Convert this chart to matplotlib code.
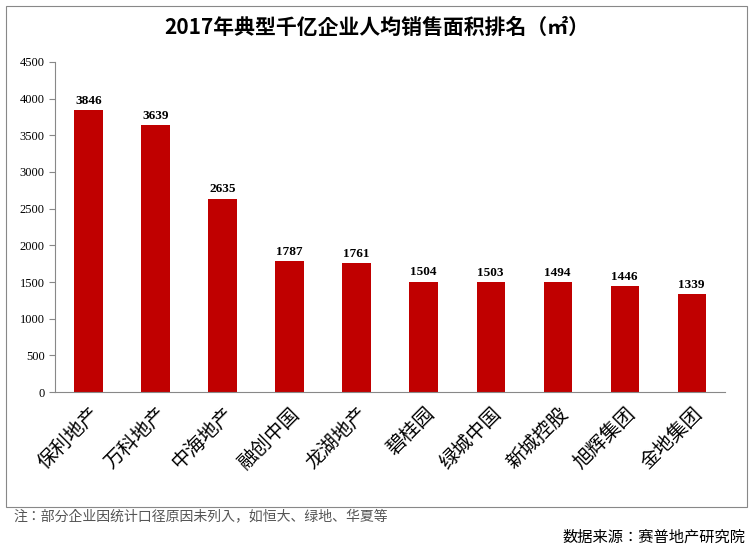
import matplotlib
matplotlib.use("Agg")
import matplotlib.pyplot as plt
from matplotlib.patches import Rectangle
from matplotlib import font_manager as fm

categories = ["保利地产", "万科地产", "中海地产", "融创中国", "龙湖地产", "碧桂园", "绿城中国", "新城控股", "旭辉集团", "金地集团"]
values = [3846, 3639, 2635, 1787, 1761, 1504, 1503, 1494, 1446, 1339]
yticks = [0, 500, 1000, 1500, 2000, 2500, 3000, 3500, 4000, 4500]

cjk = "Noto Sans CJK SC"
names = sorted({f.name for f in fm.fontManager.ttflist})
cands = [n for n in names if "CJK" in n]
if cjk not in names and cands:
    cjk = cands[0]
plt.rcParams["font.family"] = [cjk, "DejaVu Sans"]

fig = plt.figure(figsize=(7.53, 5.57), dpi=100)
fig.patches.append(Rectangle((0.008, 0.09), 0.984, 0.9, transform=fig.transFigure,
                             fill=False, edgecolor="#888888", linewidth=0.8))
ax = fig.add_axes([0.073, 0.296, 0.89, 0.593])
x = range(len(categories))
ax.bar(x, values, width=0.42, color="#C00000")
for i, v in zip(x, values):
    ax.text(i, v + 45, str(v), ha="center", va="bottom", fontsize=9.5,
            fontweight="bold", family="Liberation Serif")
ax.set_ylim(0, 4500)
ax.set_xlim(-0.5, len(categories) - 0.5)
ax.set_yticks(yticks)
ax.set_yticklabels([str(t) for t in yticks], family="Liberation Serif", fontsize=9)
ax.set_xticks(list(x))
ax.set_xticklabels(categories, rotation=45, ha="right", rotation_mode="anchor",
                   family=cjk, fontsize=14)
for s in ["top", "right"]:
    ax.spines[s].set_visible(False)
ax.spines["left"].set_color("#888888")
ax.spines["bottom"].set_color("#888888")
ax.tick_params(axis="both", color="#888888", length=4)
ax.tick_params(axis="x", length=0, pad=8)
fig.text(0.5, 0.95, "2017年典型千亿企业人均销售面积排名（㎡）", ha="center", va="center",
         family=cjk, fontsize=15, fontweight="bold")
fig.text(0.018, 0.073, "注：部分企业因统计口径原因未列入，如恒大、绿地、华夏等", ha="left",
         va="center", family=cjk, fontsize=10, color="#555555")
fig.text(0.99, 0.035, "数据来源：赛普地产研究院", ha="right", va="center",
         family=cjk, fontsize=11)
fig.savefig("out.png", dpi=100)
